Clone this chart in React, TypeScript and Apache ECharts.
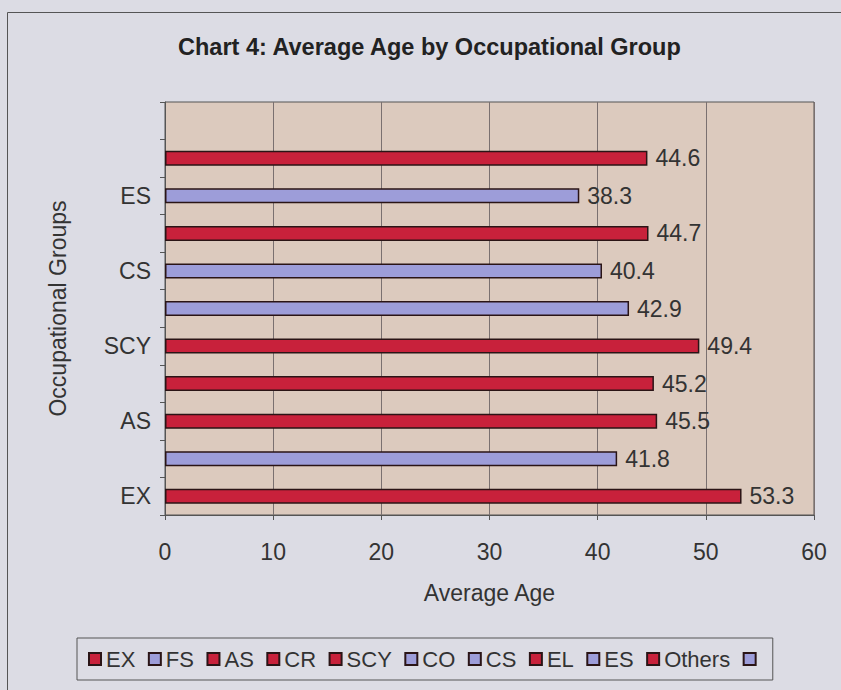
import React, { useEffect, useRef } from "react";
import * as echarts from "echarts";

const categories = ["EX", "FS", "AS", "CR", "SCY", "CO", "CS", "EL", "ES", "Others", " "];
const values: (number | null)[] = [53.3, 41.8, 45.5, 45.2, 49.4, 42.9, 40.4, 44.7, 38.3, 44.6, null];
const groupColors = ["red", "blue", "red", "red", "red", "blue", "blue", "red", "blue", "red", "blue"];
const xTicks = [0, 10, 20, 30, 40, 50, 60];

const RED = "#c8213b";
const BLUE = "#9d9dd9";
const FONT = "'Liberation Sans', Arial, sans-serif";

export default function App() {
  const ref = useRef<HTMLDivElement>(null);
  useEffect(() => {
    if (!ref.current) return;
    const chart = echarts.init(ref.current, undefined, { renderer: "svg" });
    const series = categories.map((name, i) => ({
      name,
      type: "bar",
      stack: "all",
      barWidth: 15,
      data: categories.map((_, j) => (j === i && values[j] != null ? values[j] : "-")),
      itemStyle: {
        color: groupColors[i] === "red" ? RED : BLUE,
        borderColor: "#2a1416",
        borderWidth: 1.5,
      },
      label: {
        show: true,
        position: "right",
        distance: 8,
        color: "#333",
        fontSize: 23,
        fontFamily: FONT,
        formatter: (p: any) => Number(p.value).toFixed(1),
      },
    }));
    chart.setOption({
      animation: false,
      backgroundColor: "#dcdce4",
      textStyle: { fontFamily: FONT },
      title: {
        text: "Chart 4: Average Age by Occupational Group",
        left: 173,
        top: 30,
        padding: 5,
        textStyle: { fontFamily: FONT, fontWeight: "bold", fontSize: 23.5, color: "#222" },
      },
      graphic: [
        {
          type: "rect",
          shape: { x: 7.5, y: 12.5, width: 900, height: 720 },
          style: { fill: "none", stroke: "#555", lineWidth: 1 },
          silent: true,
        },
      ],
      legend: {
        data: categories.map((c) => ({ name: c })),
        left: 77,
        top: 638,
        padding: [10, 6, 10, 11],
        itemWidth: 12,
        itemHeight: 12,
        itemGap: 12.5,
        icon: "rect",
        borderColor: "#555",
        borderWidth: 1,
        textStyle: { fontFamily: FONT, fontSize: 22, color: "#333" },
        selectedMode: false,
      },
      grid: {
        left: 165,
        right: 27,
        top: 102,
        bottom: 175,
        show: true,
        backgroundColor: "#dccabe",
        borderColor: "#555",
        borderWidth: 1,
        containLabel: false,
      },
      xAxis: {
        type: "value",
        min: xTicks[0],
        max: xTicks[xTicks.length - 1],
        interval: 10,
        name: "Average Age",
        nameLocation: "middle",
        nameGap: 66,
        nameTextStyle: { fontFamily: FONT, fontSize: 23, color: "#333" },
        axisLine: { show: true, lineStyle: { color: "#555" } },
        axisTick: { show: true, length: 5, lineStyle: { color: "#555" } },
        axisLabel: { margin: 25, fontSize: 23, color: "#333", fontFamily: FONT },
        splitLine: { show: true, lineStyle: { color: "#7a7070", width: 1 } },
      },
      yAxis: {
        type: "category",
        data: categories,
        name: "Occupational Groups",
        nameLocation: "middle",
        nameGap: 96,
        nameTextStyle: { fontFamily: FONT, fontSize: 23, color: "#333" },
        axisLine: { show: true, lineStyle: { color: "#555" } },
        axisTick: { show: true, length: 5, interval: 0, alignWithLabel: false, lineStyle: { color: "#555" } },
        axisLabel: { interval: 1, margin: 14, fontSize: 23, color: "#333", fontFamily: FONT },
        splitLine: { show: false },
      },
      series,
    });
    return () => chart.dispose();
  }, []);
  return <div ref={ref} style={{ position: "fixed", left: 0, top: 0, width: 841, height: 690 }} />;
}
